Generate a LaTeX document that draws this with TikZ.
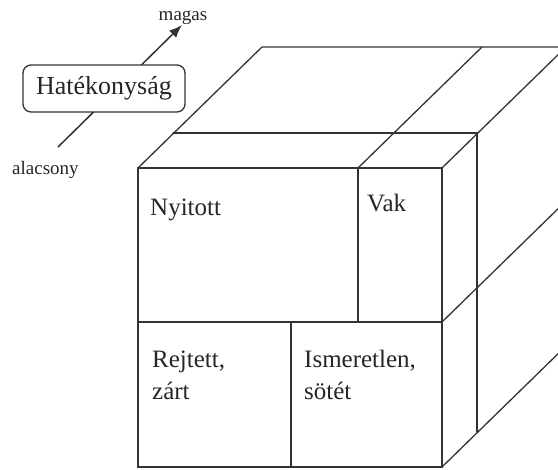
\documentclass[tikz,border=0pt]{standalone}
\usepackage{fontspec}
\setmainfont{Liberation Serif}
\usetikzlibrary{arrows.meta}
\begin{document}
\begin{tikzpicture}[x=1pt,y=-1pt,
  edge/.style={draw=black!80, line width=1.3pt, line cap=round},
  cell/.style={inner sep=0pt, text=black!85, anchor=base west, align=left,
               font=\fontsize{25}{32}\selectfont},
  tag/.style={inner sep=0pt, text=black!85, anchor=base west,
              font=\fontsize{19}{22}\selectfont},
  axis/.style={draw=black!80, line width=1.5pt, -{Latex[length=13pt,width=10pt]}},
  axisbox/.style={draw=black!80, line width=1.3pt, fill=white, rounded corners=8pt,
                  minimum width=162pt, minimum height=47pt, inner sep=0pt,
                  text=black!85, font=\fontsize{26}{30}\selectfont}]
\useasboundingbox (0,0) rectangle (558,470);
\clip (0,0) rectangle (558,470);

% cube corners: front face, middle slice, back face
\coordinate (ftl) at (138,168); \coordinate (ftr) at (442,168);
\coordinate (fml) at (138,322); \coordinate (fmr) at (442,322);
\coordinate (fbl) at (138,467); \coordinate (fbr) at (442,467);
\coordinate (fvt) at (358,168); \coordinate (fvb) at (358,322);
\coordinate (flt) at (291,322); \coordinate (flb) at (291,467);
\coordinate (mtl) at (173,133); \coordinate (mtr) at (477,133);
\coordinate (mbr) at (477,432);
\coordinate (btl) at (262,47);  \coordinate (btr) at (566,47);
\coordinate (bvt) at (482,47);
\coordinate (bmr) at (566,201); \coordinate (bbr) at (566,346);

% front face and its windows
\draw[edge] (ftl) rectangle (fbr);
\draw[edge] (fml) -- (fmr);
\draw[edge] (fvt) -- (fvb);
\draw[edge] (flt) -- (flb);

% top face and middle slice
\draw[edge] (ftl) -- (btl) -- (btr);
\draw[edge] (fvt) -- (bvt);
\draw[edge] (ftr) -- (btr);
\draw[edge] (mtl) -- (mtr) -- (mbr);

% right side
\draw[edge] (fmr) -- (bmr);
\draw[edge] (fbr) -- (bbr);

% window labels (base anchor of a two-line label sits on its last line)
\node[cell] (open)    at (150,216) {Nyitott};
\node[cell] (blind)   at (367,212) {Vak};
\node[cell] (hidden)  at (152,400) {Rejtett,\\zárt};
\node[cell] (unknown) at (304,400) {Ismeretlen,\\sötét};

% efficiency axis
\coordinate (lo) at (58,147);
\coordinate (hi) at (182,25);
\draw[axis] (lo) -- (hi);
\node[axisbox] (eff) at (104,88.5) {Hatékonyság};
\node[tag, anchor=base] (high) at (183,21) {magas};
\node[tag] (low) at (12,175) {alacsony};
\end{tikzpicture}
\end{document}
